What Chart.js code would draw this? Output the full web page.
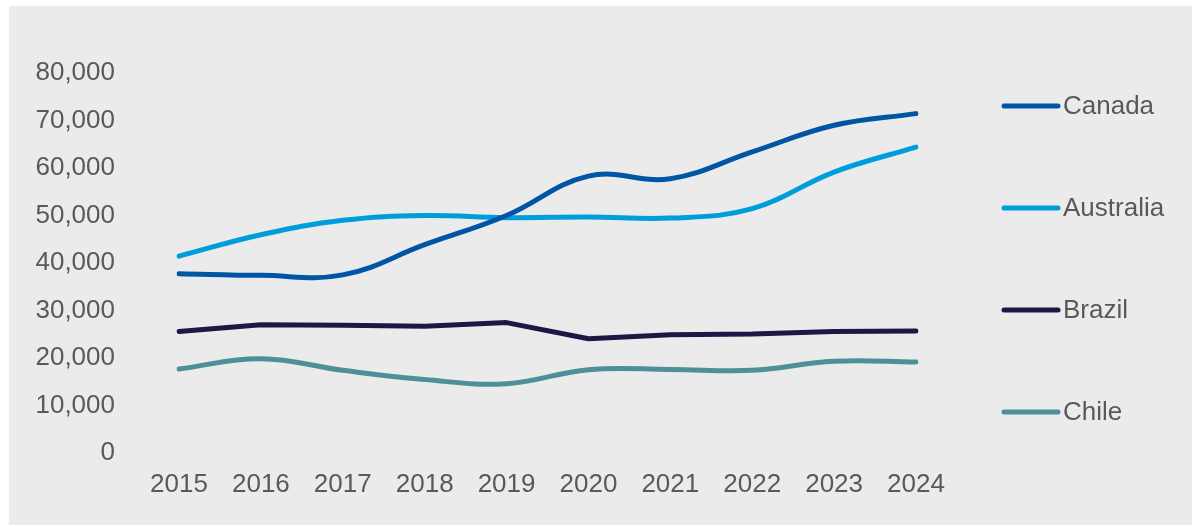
<!DOCTYPE html>
<html>
<head>
<meta charset="utf-8">
<script src="https://cdn.jsdelivr.net/npm/chart.js@4/dist/chart.umd.min.js"></script>
<style>
  html, body { margin: 0; padding: 0; background: #ffffff; }
  #wrap { position: absolute; left: 9px; top: 6px; width: 1183px; height: 519px; background: #ebebeb; }
</style>
</head>
<body>
<div id="wrap"><canvas id="chart"></canvas></div>
<script>
var years = ['2015', '2016', '2017', '2018', '2019', '2020', '2021', '2022', '2023', '2024'];
var canada = [37750, 37400, 37500, 43850, 50000, 58300, 57750, 63400, 69000, 71450];
var australia = [41450, 45950, 49000, 50000, 49550, 49700, 49450, 51450, 59150, 64400];
var brazil = [25600, 27000, 26900, 26700, 27450, 24050, 24900, 25050, 25600, 25700];
var chile = [17700, 19850, 17400, 15450, 14600, 17550, 17600, 17400, 19300, 19150];

var textColor = '#595959';
var fontFamily = '"Liberation Sans", Arial, sans-serif';

function series(label, data, color, tension) {
  return {
    label: label,
    data: data,
    borderColor: color,
    backgroundColor: color,
    borderWidth: 5,
    borderCapStyle: 'round',
    borderJoinStyle: 'round',
    pointRadius: 0,
    tension: tension,
    fill: false
  };
}

// legend drawn by hand: line sample + name, widely spaced down the right side
var sideLegend = {
  id: 'sideLegend',
  afterDraw: function (chart) {
    var ctx = chart.ctx;
    var area = chart.chartArea;
    var x0 = area.right + 88;
    var y0 = area.top + 33;
    ctx.save();
    ctx.font = '26px ' + fontFamily;
    ctx.textBaseline = 'middle';
    ctx.textAlign = 'left';
    chart.data.datasets.forEach(function (ds, i) {
      var y = y0 + i * 102;
      ctx.strokeStyle = ds.borderColor;
      ctx.lineWidth = 5;
      ctx.lineCap = 'round';
      ctx.beginPath();
      ctx.moveTo(x0, y);
      ctx.lineTo(x0 + 54, y);
      ctx.stroke();
      ctx.fillStyle = textColor;
      ctx.fillText(ds.label, x0 + 59, y + 1);
    });
    ctx.restore();
  }
};

var chart = new Chart(document.getElementById('chart'), {
  type: 'line',
  data: {
    labels: years,
    datasets: [
      series('Canada', canada, '#0055a4', 0.4),
      series('Australia', australia, '#009ddc', 0.4),
      series('Brazil', brazil, '#1f1646', 0),
      series('Chile', chile, '#4f8f99', 0.4)
    ]
  },
  options: {
    responsive: true,
    maintainAspectRatio: false,
    animation: false,
    layout: { padding: { top: 67, right: 276, left: 0, bottom: 0 } },
    plugins: {
      legend: { display: false },
      tooltip: { enabled: false }
    },
    scales: {
      x: {
        grid: { display: false, drawTicks: false },
        border: { display: false },
        ticks: { color: textColor, font: { size: 26, family: fontFamily }, padding: 16, maxRotation: 0 },
        afterFit: function (scale) { scale.height = 72; }
      },
      y: {
        min: 0,
        max: 80000,
        grid: { display: false, drawTicks: false },
        border: { display: false },
        ticks: {
          stepSize: 10000,
          color: textColor,
          font: { size: 26, family: fontFamily },
          padding: 64,
          callback: function (v) { return v.toLocaleString('en-US'); }
        },
        afterFit: function (scale) {
          // tick padding is only meant to push the labels left, not shrink the plot vertically
          scale.width = 170;
          scale.paddingTop = 0;
          scale.paddingBottom = 0;
        }
      }
    }
  },
  plugins: [sideLegend]
});
</script>
</body>
</html>
